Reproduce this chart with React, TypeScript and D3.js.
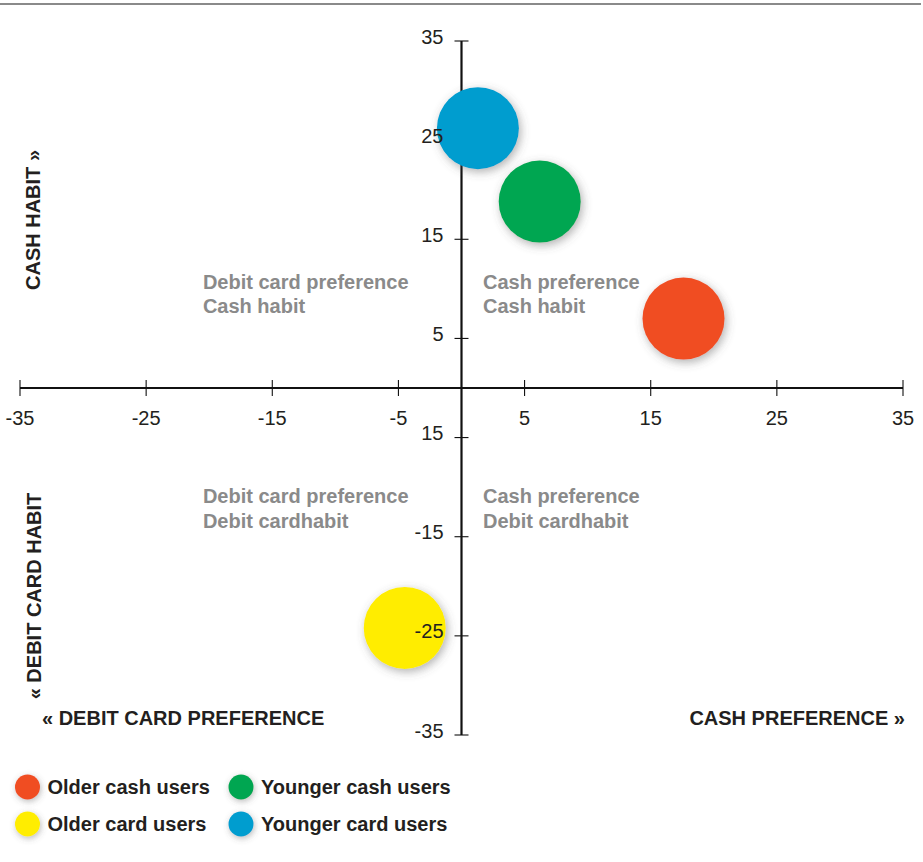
import React from "react";
import * as d3 from "d3";

const groups = ["Older cash users", "Younger cash users", "Older card users", "Younger card users"];
const xValues = [17.6, 6.2, -4.5, 1.3];
const yValues = [7.0, 18.8, -24.2, 26.2];
const sizes = [1, 1, 1, 1];
const colors = ["#F04E23", "#00A651", "#FFED00", "#009DCF"];

const xTicks = [-35, -25, -15, -5, 5, 15, 25, 35];
const yTicks = [35, 25, 15, 5, -5, -15, -25, -35];
const yTickLabels = ["35", "25", "15", "5", "15", "-15", "-25", "-35"];

const quadrantLabels = [
  { x: -20.5, y: 10, lines: ["Debit card preference", "Cash habit"] },
  { x: 1.7, y: 10, lines: ["Cash preference", "Cash habit"] },
  { x: -20.5, y: -11.6, lines: ["Debit card preference", "Debit cardhabit"] },
  { x: 1.7, y: -11.6, lines: ["Cash preference", "Debit cardhabit"] },
];

const W = 923;
const H = 862;
const FONT = "'Liberation Sans', Arial, Helvetica, sans-serif";
const DARK = "#231F20";
const GRAY = "#8A8A8A";
const FS = 20;

export default function App() {
  const x = d3.scaleLinear().domain([-35, 35]).range([20, 903]);
  const y = d3.scaleLinear().domain([-35, 35]).range([735, 41]);
  const r = d3.scaleSqrt().domain([0, 1]).range([0, 41]);
  const x0 = x(0);
  const y0 = y(0);

  const legendPos = [
    { cx: 27.5, cy: 787 },
    { cx: 241, cy: 787 },
    { cx: 27.5, cy: 824 },
    { cx: 241, cy: 824 },
  ];

  return (
    <svg
      width={W}
      height={H}
      style={{ position: "absolute", left: 0, top: 0, background: "#fff" }}
      fontFamily={FONT}
    >
      <defs>
        <filter id="shadow" x="-50%" y="-50%" width="200%" height="200%">
          <feDropShadow dx="2" dy="3" stdDeviation="5" floodColor="#555" floodOpacity="0.45" />
        </filter>
        <filter id="shadowSmall" x="-80%" y="-80%" width="260%" height="260%">
          <feDropShadow dx="1" dy="2" stdDeviation="3" floodColor="#555" floodOpacity="0.4" />
        </filter>
      </defs>
      <rect x={0} y={0} width={W} height={H} fill="#fff" />
      <line x1={0} x2={921} y1={4} y2={4} stroke="#8a8a8a" strokeWidth={2} />

      {/* axes */}
      <line x1={x(-35)} x2={x(35)} y1={y0} y2={y0} stroke="#111" strokeWidth={2.2} />
      {xTicks.map((t) => (
        <line key={"xt" + t} x1={x(t)} x2={x(t)} y1={y0 - 8} y2={y0 + 8} stroke="#111" strokeWidth={1.1} />
      ))}
      <line x1={x0} x2={x0} y1={y(35)} y2={y(-35)} stroke="#111" strokeWidth={2.2} />
      {yTicks.map((t) => (
        <line key={"yt" + t} x1={x0 - 7} x2={x0 + 7} y1={y(t)} y2={y(t)} stroke="#111" strokeWidth={1.1} />
      ))}

      {/* quadrant labels */}
      {quadrantLabels.map((q, i) => (
        <text key={"q" + i} x={x(q.x)} y={y(q.y)} fill={GRAY} fontWeight="bold" fontSize={FS}>
          {q.lines.map((l, j) => (
            <tspan key={j} x={x(q.x)} dy={j === 0 ? 0 : 24.5}>
              {l}
            </tspan>
          ))}
        </text>
      ))}

      {/* bubbles */}
      {xValues.map((v, i) => (
        <circle
          key={"b" + i}
          cx={x(v)}
          cy={y(yValues[i])}
          r={r(sizes[i])}
          fill={colors[i]}
          filter="url(#shadow)"
        />
      ))}

      {/* tick labels */}
      {xTicks.map((t) => (
        <text key={"xl" + t} x={x(t)} y={y0 + 37} textAnchor="middle" fontSize={FS} fill={DARK}>
          {t}
        </text>
      ))}
      {yTicks.map((t, i) => (
        <text key={"yl" + t} x={x0 - 18} y={y(t) + 2.5} textAnchor="end" fontSize={FS} fill={DARK}>
          {yTickLabels[i]}
        </text>
      ))}

      {/* axis titles */}
      <text
        transform={`translate(40,220) rotate(-90)`}
        textAnchor="middle"
        fontWeight="bold"
        fontSize={FS}
        fill={DARK}
      >
        CASH HABIT »
      </text>
      <text
        transform={`translate(41,596) rotate(-90)`}
        textAnchor="middle"
        fontWeight="bold"
        fontSize={FS}
        fill={DARK}
      >
        « DEBIT CARD HABIT
      </text>
      <text x={42} y={725} fontWeight="bold" fontSize={FS} fill={DARK}>
        « DEBIT CARD PREFERENCE
      </text>
      <text x={905} y={725} textAnchor="end" fontWeight="bold" fontSize={FS} fill={DARK}>
        CASH PREFERENCE »
      </text>

      {/* legend */}
      {groups.map((g, k) => {
        const p = legendPos[k];
        return (
          <g key={"lg" + k}>
            <circle cx={p.cx} cy={p.cy} r={12.5} fill={colors[k]} filter="url(#shadowSmall)" />
            <text x={p.cx + 20} y={p.cy + 7} fontWeight="bold" fontSize={FS} fill={DARK}>
              {g}
            </text>
          </g>
        );
      })}
    </svg>
  );
}
